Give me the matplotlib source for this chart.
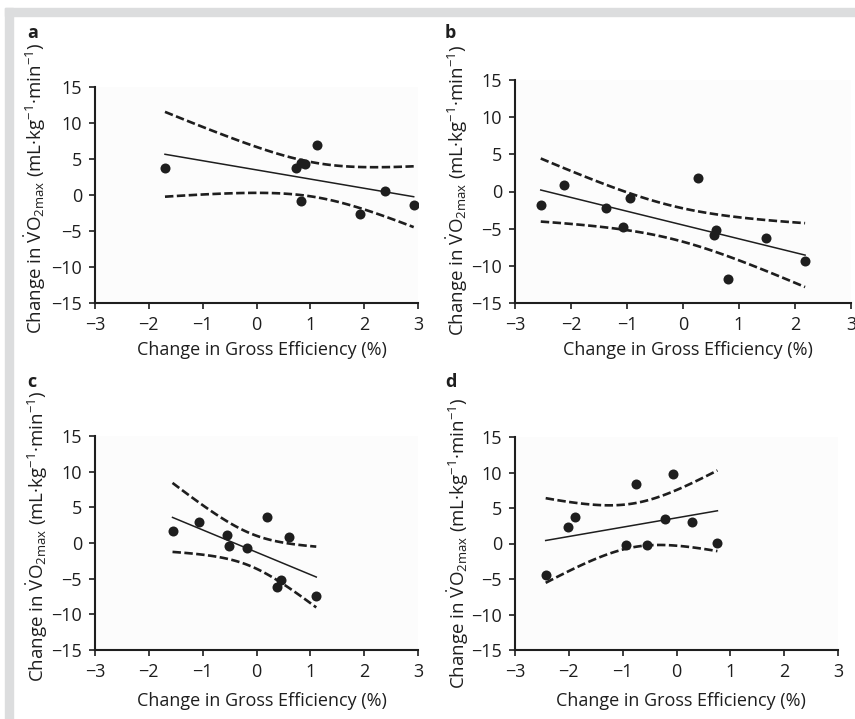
import numpy as np
import matplotlib
matplotlib.use('Agg')
import matplotlib.pyplot as plt
from matplotlib.patches import Rectangle

# data: change in gross efficiency (%) vs change in VO2max
a_x = [-1.70, 0.73, 0.83, 0.90, 1.12, 0.82, 1.93, 2.39, 2.92]
a_y = [3.7, 3.8, 4.4, 4.3, 7.0, -0.9, -2.7, 0.5, -1.4]

b_x = [-2.54, -2.13, -1.38, -0.95, -1.08, 0.27, 0.59, 0.55, 1.48, 2.18, 0.81]
b_y = [-1.8, 0.9, -2.2, -0.9, -4.8, 1.75, -5.2, -5.9, -6.3, -9.3, -11.8]

c_x = [-1.56, -1.07, -0.55, -0.52, -0.17, 0.19, 0.61, 0.46, 0.38, 1.11]
c_y = [1.7, 3.0, 1.1, -0.4, -0.65, 3.7, 0.8, -5.2, -6.1, -7.4]

d_x = [-2.43, -2.02, -1.89, -0.94, -0.76, -0.54, -0.22, -0.06, 0.28, 0.76]
d_y = [-4.5, 2.3, 3.7, -0.15, 8.4, -0.25, 3.4, 9.8, 3.05, 0.1]

panel_letters = ['a', 'b', 'c', 'd']
x_ticks = [-3, -2, -1, 0, 1, 2, 3]
y_ticks = [-15, -10, -5, 0, 5, 10, 15]

# two-sided 95% t critical values by degrees of freedom
t_crit = {7: 2.365, 8: 2.306, 9: 2.262, 10: 2.228}

plt.rcParams['font.family'] = ['Open Sans', 'DejaVu Sans']
plt.rcParams['mathtext.fontset'] = 'custom'
plt.rcParams['mathtext.rm'] = 'Open Sans'
plt.rcParams['mathtext.it'] = 'Open Sans:italic'
plt.rcParams['mathtext.bf'] = 'Open Sans:bold'

W, H = 855, 719
fig = plt.figure(figsize=(W / 100, H / 100), dpi=100)

# grey frame along top and left
fig.patches.append(Rectangle((5 / W, 1 - 16 / H), 1, 8 / H, transform=fig.transFigure,
                             color='#dcddde', zorder=0))
fig.patches.append(Rectangle((5 / W, 0), 8 / W, 1 - 8 / H, transform=fig.transFigure,
                             color='#dcddde', zorder=0))

# axes boxes in pixels: left, top, right, bottom
boxes = [(95, 87, 418, 303), (515, 80, 851, 303), (95, 436, 418, 650), (515, 437, 838, 650)]
ylab_pos = [(-0.186, 0.532), (-0.171, 0.507), (-0.178, 0.533), (-0.176, 0.50)]
xlab_pos = [(0.517, -0.218), (0.515, -0.211), (0.517, -0.238), (0.514, -0.239)]
letter_pos = [(27, 33), (445, 33), (27, 382), (445, 382)]

ylabel = r'Change in $\dot{\mathrm{V}}\mathrm{O}_{2\mathrm{max}}$ (mL·kg$^{-1}$·min$^{-1}$)'
xlabel = 'Change in Gross Efficiency (%)'
ink = '#1e1e1e'

for i, (xs, ys) in enumerate([(a_x, a_y), (b_x, b_y), (c_x, c_y), (d_x, d_y)]):
    l, t, r, b = boxes[i]
    ax = fig.add_axes([l / W, 1 - b / H, (r - l) / W, (b - t) / H])
    ax.set_facecolor('#fcfcfc')
    xs = np.array(xs)
    ys = np.array(ys)

    # linear fit and 95% confidence band of the mean
    n = len(xs)
    slope, icpt = np.polyfit(xs, ys, 1)
    resid = ys - (slope * xs + icpt)
    s = np.sqrt(np.sum(resid ** 2) / (n - 2))
    sxx = np.sum((xs - xs.mean()) ** 2)
    xx = np.linspace(xs.min(), xs.max(), 100)
    yy = slope * xx + icpt
    half = t_crit[n - 2] * s * np.sqrt(1 / n + (xx - xs.mean()) ** 2 / sxx)

    ax.plot(xx, yy, color=ink, lw=1.1, zorder=2)
    ax.plot(xx, yy + half, color=ink, lw=1.9, dashes=(3.2, 1.3), zorder=2)
    ax.plot(xx, yy - half, color=ink, lw=1.9, dashes=(3.2, 1.3), zorder=2)
    ax.scatter(xs, ys, s=52, color=ink, zorder=3, linewidths=0)

    ax.set_xlim(-3, 3)
    ax.set_ylim(-15, 15)
    ax.set_xticks(x_ticks)
    ax.set_yticks(y_ticks)
    ax.spines['top'].set_visible(False)
    ax.spines['right'].set_visible(False)
    for sp in ['left', 'bottom']:
        ax.spines[sp].set_linewidth(1.5)
        ax.spines[sp].set_color(ink)
    ax.tick_params(direction='out', length=4.3, width=1.2, color=ink,
                   labelsize=13, pad=5, labelcolor=ink)
    for lab in ax.get_xticklabels() + ax.get_yticklabels():
        lab.set_clip_on(False)

    ax.set_xlabel(xlabel, fontsize=13, color=ink, va='center')
    ax.xaxis.set_label_coords(*xlab_pos[i])
    ax.set_ylabel(ylabel, fontsize=13.5, color=ink, va='center')
    ax.yaxis.set_label_coords(*ylab_pos[i])

    fig.text(letter_pos[i][0] / W, 1 - letter_pos[i][1] / H, panel_letters[i],
             fontsize=13, fontweight='bold', color=ink, va='center', ha='left')

fig.savefig('out.png', dpi=100)
